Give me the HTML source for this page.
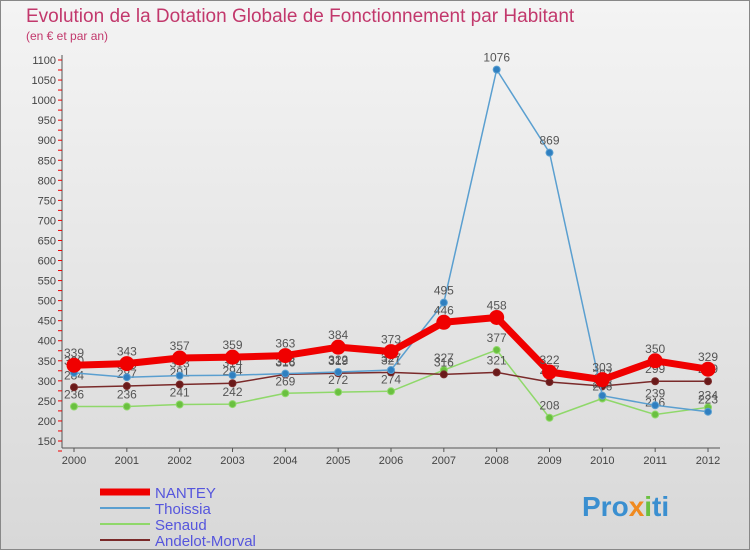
<!DOCTYPE html>
<html><head><meta charset="utf-8"><style>
body{margin:0;width:750px;height:550px;overflow:hidden;font-family:"Liberation Sans",sans-serif}
</style></head><body>
<svg width="750" height="550" xmlns="http://www.w3.org/2000/svg">
<defs><linearGradient id="bg" x1="0" y1="0" x2="0" y2="1"><stop offset="0" stop-color="#f4f4f4"/><stop offset="1" stop-color="#d8d8d8"/></linearGradient></defs>
<rect x="0.5" y="0.5" width="749" height="549" fill="url(#bg)" stroke="#888"/>
<text x="26" y="22" font-size="19" fill="#c2386c">Evolution de la Dotation Globale de Fonctionnement par Habitant</text>
<text x="26" y="40" font-size="12" fill="#c2386c">(en € et par an)</text>
<g id="axes"></g><g id="series"></g><g id="legend"></g>
<text x="582" y="516" font-size="28" font-weight="bold" fill="#3a8fd0">Pro<tspan fill="#f08a20">x</tspan><tspan fill="#6ac040">i</tspan>ti</text>
</svg>
<script>
const years=[2000,2001,2002,2003,2004,2005,2006,2007,2008,2009,2010,2011,2012];
const yTicks=[150,200,250,300,350,400,450,500,550,600,650,700,750,800,850,900,950,1000,1050,1100];
const nantey=[339,343,357,359,363,384,373,446,458,322,303,350,329];
const thoissia=[320,309,313,314,318,322,327,495,1076,869,263,239,223];
const senaud=[236,236,241,242,269,272,274,327,377,208,256,216,234];
const andelot=[284,287,291,294,316,319,321,316,321,297,287,299,299];
const NS="http://www.w3.org/2000/svg";
const xs=i=>74+i*(708-74)/12;
const ys=v=>441-(v-150)*(441-60)/950;
function mk(tag,attrs,parent,text){const e=document.createElementNS(NS,tag);for(const k in attrs)e.setAttribute(k,attrs[k]);if(text!==undefined)e.textContent=text;parent.appendChild(e);return e;}
const ax=document.getElementById('axes');
let a=mk('line',{x1:62,y1:55,x2:62,y2:448,stroke:'#555'},ax);


a=mk('line',{x1:62,y1:448,x2:720,y2:448,stroke:'#555'},ax);


yTicks.forEach(t=>{const y=ys(t);
 let tk=mk('line',{x1:58,y1:y,x2:62,y2:y,stroke:'#e00'},ax);
 
 
 let m=mk('line',{x1:58,y1:y+10,x2:62,y2:y+10,stroke:'#e00'},ax);
 
 
 let l=mk('text',{x:56,y:y+4,'font-size':11,'text-anchor':'end',fill:'#444'},ax,t);
 
 });
years.forEach((yr,i)=>{const x=xs(i);
 let tk=mk('line',{x1:x,y1:448,x2:x,y2:452,stroke:'#555'},ax);
 
 
 let l=mk('text',{x:x,y:464,'font-size':11,'text-anchor':'middle',fill:'#444'},ax,yr);
 
 });
const sg=document.getElementById('series');
function draw(vals,color,lw,r,name,dot){
 const g=mk('g',{},sg);
 
 
 const p=mk('polyline',{points:vals.map((v,i)=>xs(i)+','+ys(v)).join(' '),fill:'none',stroke:color,'stroke-width':lw,'stroke-linejoin':'round'},g);
 
 
 vals.forEach((v,i)=>{
  const c=mk('circle',{cx:xs(i),cy:ys(v),r:r,fill:dot,stroke:color,'stroke-width':1},g);
  
  
  const t=mk('text',{x:xs(i),y:ys(v)-8,'font-size':12,'text-anchor':'middle',fill:'#555'},g,v);
  
  });
}
draw(senaud,'#8fd86a',1.5,3.5,'senaud','#6ac040');
draw(andelot,'#7a2a2a',1.5,3.5,'andelot-morval','#6a1a1a');
draw(thoissia,'#5a9fd0',1.5,3.5,'thoissia','#2f7fc0');
draw(nantey,'#f00000',7,7,'nantey','#f00000');
const lg=document.getElementById('legend');
const legs=[['NANTEY','#f00000',7],['Thoissia','#5a9fd0',2],['Senaud','#8fd86a',2],['Andelot-Morval','#7a2a2a',2]];
legs.forEach((L,i)=>{const y=492+i*16;
 const g=mk('g',{},lg);
 
 
 mk('line',{x1:100,y1:y,x2:150,y2:y,stroke:L[1],'stroke-width':L[2]},g);
 mk('text',{x:155,y:y+6,'font-size':15,fill:'#5555dd'},g,L[0]);});
</script>
</body></html>
